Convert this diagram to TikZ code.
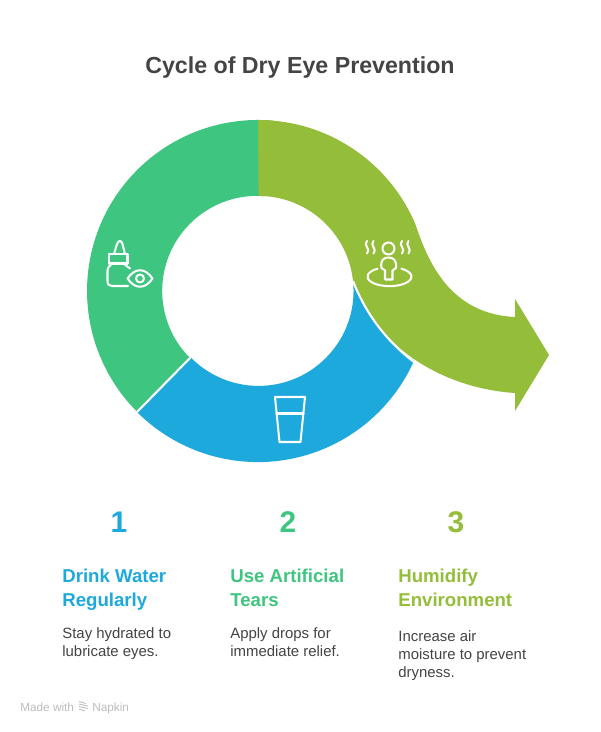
\documentclass[tikz,border=0pt]{standalone}
\usepackage{fontspec}
\setmainfont{Liberation Sans}
\usepackage{tikz}
\definecolor{ringgreen}{HTML}{3EC680}
\definecolor{ringblue}{HTML}{1EA9DC}
\definecolor{ringolive}{HTML}{94BD3A}
\definecolor{inkgray}{HTML}{444444}
\definecolor{footgray}{HTML}{BDBDBD}
\def\outerrad{3.42cm}
\def\innerrad{1.9cm}
\tikzset{
	separator/.style={draw=white,line width=1.2pt},
	iconline/.style={draw=white,line width=1.15pt,line cap=round,line join=round},
	titletext/.style={inkgray,font=\fontsize{13.2}{16}\selectfont\bfseries,inner sep=0pt},
	numtext/.style={font=\fontsize{17}{20}\selectfont\bfseries,inner sep=0pt},
	headtext/.style={anchor=north west,align=left,inner sep=0pt,font=\fontsize{10.6}{13.6}\selectfont\bfseries},
	bodytext/.style={anchor=north west,align=left,inner sep=0pt,inkgray,font=\fontsize{8.5}{10.2}\selectfont},
	foottext/.style={footgray,inner sep=0pt,anchor=base west,font=\fontsize{6.7}{8}\selectfont},
}
\begin{document}
\begin{tikzpicture}[x=0.02cm,y=-0.02cm]
	\useasboundingbox (0,0) rectangle (600,732);
	% ring
	\fill[white] (0,0) rectangle (600,732);
	\fill[ringblue] (137,412) arc[start angle=225,end angle=336,radius=\outerrad]
		.. controls (385,340) and (365,312) .. (353,281)
		arc[start angle=6,end angle=-135,radius=\innerrad] -- cycle;
	\fill[ringgreen] (272.9,120.65) arc[start angle=85,end angle=225,radius=\outerrad]
		-- (190,358) arc[start angle=225,end angle=85,radius=\innerrad] -- cycle;
	\fill[ringolive] (258,120) arc[start angle=90,end angle=23,radius=\outerrad]
		.. controls (428,262) and (450,314) .. (515,317)
		-- (515,299) -- (549,355) -- (515,411) -- (515,393)
		.. controls (440,388) and (375,345) .. (353,281)
		arc[start angle=6,end angle=90,radius=\innerrad] -- cycle;
	\draw[separator] (137,412) -- (190,358);
	\draw[separator] (414,362) .. controls (385,340) and (365,312) .. (353,281);

	% drops and eye
	\draw[iconline] (114,254) -- (117,244) .. controls (118.5,240) and (121.5,240) .. (122.5,244) -- (125,254);
	\draw[iconline] (109,254) rectangle (127.5,263.5);
	\draw[iconline] (112,263.5) .. controls (110,266) and (107.5,267) .. (107.5,271) -- (107.5,281)
		.. controls (107.5,284.5) and (109,286) .. (112,286) -- (128,286);
	\draw[iconline] (123.5,263.5) .. controls (125,266) and (128,266) .. (130,268.5);
	\draw[iconline] (127.5,278.5) .. controls (135,267.5) and (145,267.5) .. (152.5,278.5)
		.. controls (145,289.5) and (135,289.5) .. (127.5,278.5) -- cycle;
	\draw[iconline] (140,278.5) circle[radius=4];

	% glass
	\draw[iconline] (275,397) -- (305,397) -- (300.5,442) -- (279.5,442) -- cycle;
	\draw[iconline] (276.5,413.5) -- (303.5,413.5);

	% person in steam
	\draw[iconline] (388.5,248.5) circle[radius=6];
	\draw[iconline] (385,279.5) -- (385,270.5) -- (381.5,268) .. controls (380,260) and (384,257.5) .. (388.5,257.5)
		.. controls (393,257.5) and (397,260) .. (396,268) -- (392.5,270.5) -- (392.5,279.5) -- cycle;
	\draw[iconline] (377.5,268.7) arc[start angle=123,end angle=417,x radius=0.44cm,y radius=0.19cm];
	\foreach \x in {367,373.5,402,408.5}{
		\draw[iconline] (\x,241) .. controls (\x-4.5,245) and (\x+4.5,249) .. (\x,253.5);}

	% texts
	\node[titletext] (title) at (300,68) {Cycle of Dry Eye Prevention};
	\node[numtext,ringblue] (num1) at (119,522) {1};
	\node[numtext,ringgreen] (num2) at (288,522) {2};
	\node[numtext,ringolive] (num3) at (456,522) {3};
	\node[headtext,ringblue] (head1) at (62,569) {Drink Water\\Regularly};
	\node[headtext,ringgreen] (head2) at (230,569) {Use Artificial\\Tears};
	\node[headtext,ringolive] (head3) at (398,569) {Humidify\\Environment};
	\node[bodytext] (body1) at (62,627) {Stay hydrated to\\lubricate eyes.};
	\node[bodytext] (body2) at (230,627) {Apply drops for\\immediate relief.};
	\node[bodytext] (body3) at (398,630) {Increase air\\moisture to prevent\\dryness.};

	% footer
	\node[foottext] (made) at (20,711) {Made with};
	\node[foottext] (napkin) at (92,711) {Napkin};
	\foreach \y/\e in {702.5/86,705/88,707.5/88,710/85}{
		\draw[footgray,line width=0.5pt] (79,\y-1) -- (\e,\y+1);}
\end{tikzpicture}
\end{document}
